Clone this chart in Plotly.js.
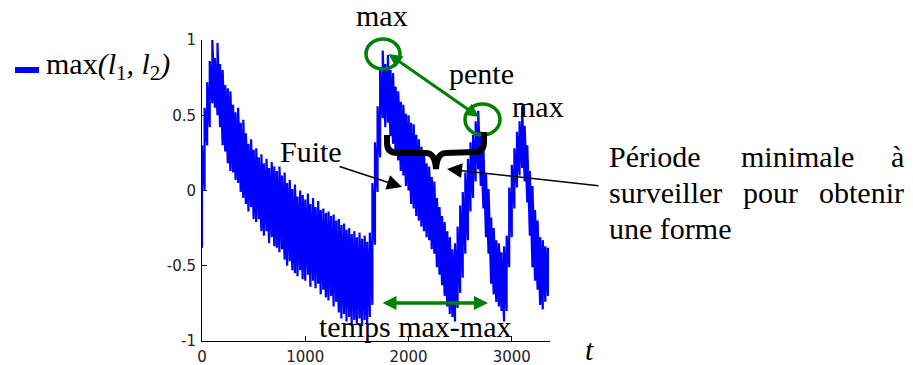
<!DOCTYPE html>
<html>
<head>
<meta charset="utf-8">
<script src="https://cdn.plot.ly/plotly-3.0.1.min.js"></script>
<style>html,body{margin:0;padding:0;background:#fff;}#chart{width:913px;height:365px;}</style>
</head>
<body>
<div id="chart"></div>
<script>
// sample times
const t = [0,25,50,75,100,125,150,175,200,225,
  250,275,300,325,350,375,400,425,450,475,
  500,525,550,575,600,625,650,675,700,725,
  750,775,800,825,850,875,900,925,950,975,
  1000,1025,1050,1075,1100,1125,1150,1175,1200,1225,
  1250,1275,1300,1325,1350,1375,1400,1425,1450,1475,
  1500,1525,1550,1575,1600,1625,1650,1675,1700,1725,
  1750,1775,1800,1825,1850,1875,1900,1925,1950,1975,
  2000,2025,2050,2075,2100,2125,2150,2175,2200,2225,
  2250,2275,2300,2325,2350,2375,2400,2425,2450,2475,
  2500,2525,2550,2575,2600,2625,2650,2675,2700,2725,
  2750,2775,2800,2825,2850,2875,2900,2925,2950,2975,
  3000,3025,3050,3075,3100,3125,3150,3175,3200,3225,
  3250,3275,3300,3325,3350];
// upper excursions of max(l1,l2)
const hi = [0.30,0.55,0.72,0.86,1.00,0.88,0.98,0.84,0.80,0.70,
  0.68,0.66,0.57,0.52,0.55,0.45,0.47,0.38,0.31,0.34,
  0.27,0.28,0.22,0.24,0.18,0.21,0.15,0.19,0.16,0.13,
  0.16,0.10,0.12,0.05,0.07,0.01,0.04,-0.04,0.00,-0.03,
  -0.06,-0.02,-0.09,-0.05,-0.11,-0.07,-0.13,-0.12,-0.15,-0.14,
  -0.17,-0.16,-0.20,-0.19,-0.23,-0.22,-0.26,-0.25,-0.29,-0.27,
  -0.31,-0.28,-0.32,-0.30,-0.34,-0.28,0.05,0.32,0.56,0.80,
  0.93,0.84,0.90,0.80,0.78,0.69,0.66,0.59,0.57,0.51,
  0.50,0.45,0.44,0.37,0.34,0.29,0.26,0.18,0.16,0.09,
  0.06,-0.05,-0.11,-0.17,-0.21,-0.27,-0.31,-0.39,-0.35,-0.24,
  -0.10,-0.01,0.12,0.21,0.32,0.37,0.46,0.53,0.39,0.29,
  0.11,0.01,-0.18,-0.25,-0.33,-0.35,-0.41,-0.37,-0.30,0.02,
  0.17,0.28,0.39,0.46,0.56,0.43,0.30,0.13,0.03,-0.13,
  -0.20,-0.31,-0.33,-0.37,-0.38];
// lower excursions of max(l1,l2)
const lo = [-0.38,0.00,0.30,0.42,0.58,0.55,0.50,0.42,0.30,0.26,
  0.18,0.13,0.12,0.07,0.05,-0.01,-0.05,-0.09,-0.14,-0.11,
  -0.19,-0.21,-0.19,-0.27,-0.30,-0.27,-0.35,-0.31,-0.37,-0.38,
  -0.41,-0.39,-0.46,-0.50,-0.47,-0.53,-0.55,-0.57,-0.53,-0.59,
  -0.60,-0.56,-0.64,-0.60,-0.65,-0.62,-0.69,-0.66,-0.71,-0.73,
  -0.70,-0.77,-0.74,-0.81,-0.85,-0.82,-0.87,-0.84,-0.89,-0.86,
  -0.88,-0.85,-0.90,-0.86,-0.89,-0.84,-0.76,-0.36,-0.01,0.22,
  0.48,0.42,0.45,0.36,0.31,0.25,0.20,0.13,0.10,0.03,
  0.00,-0.09,-0.12,-0.17,-0.20,-0.24,-0.27,-0.31,-0.33,-0.39,
  -0.42,-0.51,-0.56,-0.63,-0.70,-0.77,-0.82,-0.84,-0.87,-0.78,
  -0.68,-0.58,-0.42,-0.33,-0.14,-0.05,0.06,0.14,0.03,-0.12,
  -0.31,-0.42,-0.62,-0.69,-0.74,-0.77,-0.80,-0.87,-0.80,-0.51,
  -0.31,-0.12,0.02,0.10,0.15,0.06,-0.08,-0.30,-0.51,-0.60,
  -0.66,-0.76,-0.79,-0.74,-0.70];
const xTicks = [0,1000,2000,3000];
const xTickText = ['0','1000','2000','3000'];
const yTicks = [-1,-0.5,0,0.5,1];
const yTickText = ['-1','-0.5','0','0.5','1'];

// interleave the excursions into one trace (vertical swings between read lows and highs)
const xs = [], ys = [];
for (let i = 0; i < t.length; i++) { xs.push(t[i], t[i]); ys.push(lo[i], hi[i]); }

// pixel -> paper helpers for the decorations
const L = 202, R = 913 - 363, T = 40, B = 341;
const PX = p => (p - L) / (R - L);
const PY = p => (B - p) / (B - T);
const P = (x, y) => PX(x).toFixed(5) + ',' + PY(y).toFixed(5);

const SERIF = '"Liberation Serif", "Times New Roman", Times, "DejaVu Serif", "Noto Serif", serif';
const serif = {family: SERIF, size: 30, color: '#000'};
const green = 'rgb(0,128,0)';
function txt(text, px, py, xanchor, extra) {
  return Object.assign({xref: 'paper', yref: 'paper', x: PX(px), y: PY(py), text: text,
    showarrow: false, xanchor: xanchor || 'center', yanchor: 'middle', font: serif, borderpad: 0}, extra || {});
}
function arrow(tipX, tipY, tailX, tailY, color, w, size, both) {
  return {xref: 'paper', yref: 'paper', x: PX(tipX), y: PY(tipY), ax: tailX - tipX, ay: tailY - tipY,
    text: '', showarrow: true, arrowhead: 2, startarrowhead: 2, arrowside: both ? 'end+start' : 'end',
    arrowcolor: color, arrowwidth: w, arrowsize: size, startarrowsize: size, standoff: 0, startstandoff: 0};
}

const trace = {type: 'scatter', mode: 'lines', x: xs, y: ys, name: 'max(l1, l2)',
  line: {color: '#0000ff', width: 2.2, simplify: false}, hoverinfo: 'skip'};

const axisCommon = {showline: true, linecolor: '#000', linewidth: 1, ticks: 'inside', ticklen: 5,
  tickcolor: '#000', tickwidth: 1, showgrid: false, zeroline: false,
  tickfont: {family: '"DejaVu Sans", Verdana, sans-serif', size: 15, color: '#222'}, ticklabelstandoff: 2};

const bracePath = 'M' + P(387,135) + ' L' + P(387,143) + ' Q' + P(387,153) + ' ' + P(398,153) +
  ' L' + P(426,153) + ' Q' + P(435,153) + ' ' + P(436,169) + ' Q' + P(437,153) + ' ' + P(446,153) +
  ' L' + P(474,152) + ' Q' + P(484,152) + ' ' + P(484,142) + ' L' + P(484,132);

const layout = {
  width: 913, height: 365, margin: {l: L, r: 363, t: T, b: 365 - B, pad: 0},
  paper_bgcolor: '#fff', plot_bgcolor: '#fff', showlegend: false,
  font: {family: SERIF},
  xaxis: Object.assign({}, axisCommon, {range: [0, 3370], tickvals: xTicks, ticktext: xTickText}),
  yaxis: Object.assign({}, axisCommon, {range: [-1, 1], tickvals: yTicks, ticktext: yTickText}),
  shapes: [
    {type: 'line', xref: 'paper', yref: 'paper', x0: PX(15), x1: PX(39), y0: PY(70), y1: PY(70),
      line: {color: '#0000ff', width: 6}},
    {type: 'circle', xref: 'paper', yref: 'paper', x0: PX(366), x1: PX(400), y0: PY(69), y1: PY(39),
      line: {color: green, width: 3.5}},
    {type: 'circle', xref: 'paper', yref: 'paper', x0: PX(465), x1: PX(500), y0: PY(135), y1: PY(104),
      line: {color: green, width: 3.5}},
    {type: 'path', xref: 'paper', yref: 'paper', path: bracePath, line: {color: '#000', width: 6}}
  ],
  annotations: [
    txt('max<i>(l</i><sub>1</sub><i>, l</i><sub>2</sub><i>)</i>', 45, 66, 'left'),
    txt('max', 382, 16),
    txt('pente', 481, 73),
    txt('max', 538, 106),
    txt('Fuite', 311, 151),
    txt('temps max-max', 415, 326),
    txt('<i>t</i>', 589, 349, 'center', {height: 26}),
    txt('Période', 608, 156, 'left'),
    txt('minimale', 797, 156),
    txt('à', 905, 156, 'right'),
    txt('surveiller', 608, 192, 'left'),
    txt('pour', 770, 192),
    txt('obtenir', 905, 192, 'right'),
    txt('une forme', 608, 228, 'left'),
    arrow(402, 187, 338, 166, '#000', 1.5, 2, false),
    arrow(447, 169, 600, 186, '#000', 1.5, 2, false),
    arrow(479, 117, 387, 53, green, 3, 0.9, true),
    arrow(488, 303, 381, 303, green, 3.5, 0.8, true)
  ]
};

Plotly.newPlot('chart', [trace], layout, {staticPlot: true, displayModeBar: false});
</script>
</body>
</html>
